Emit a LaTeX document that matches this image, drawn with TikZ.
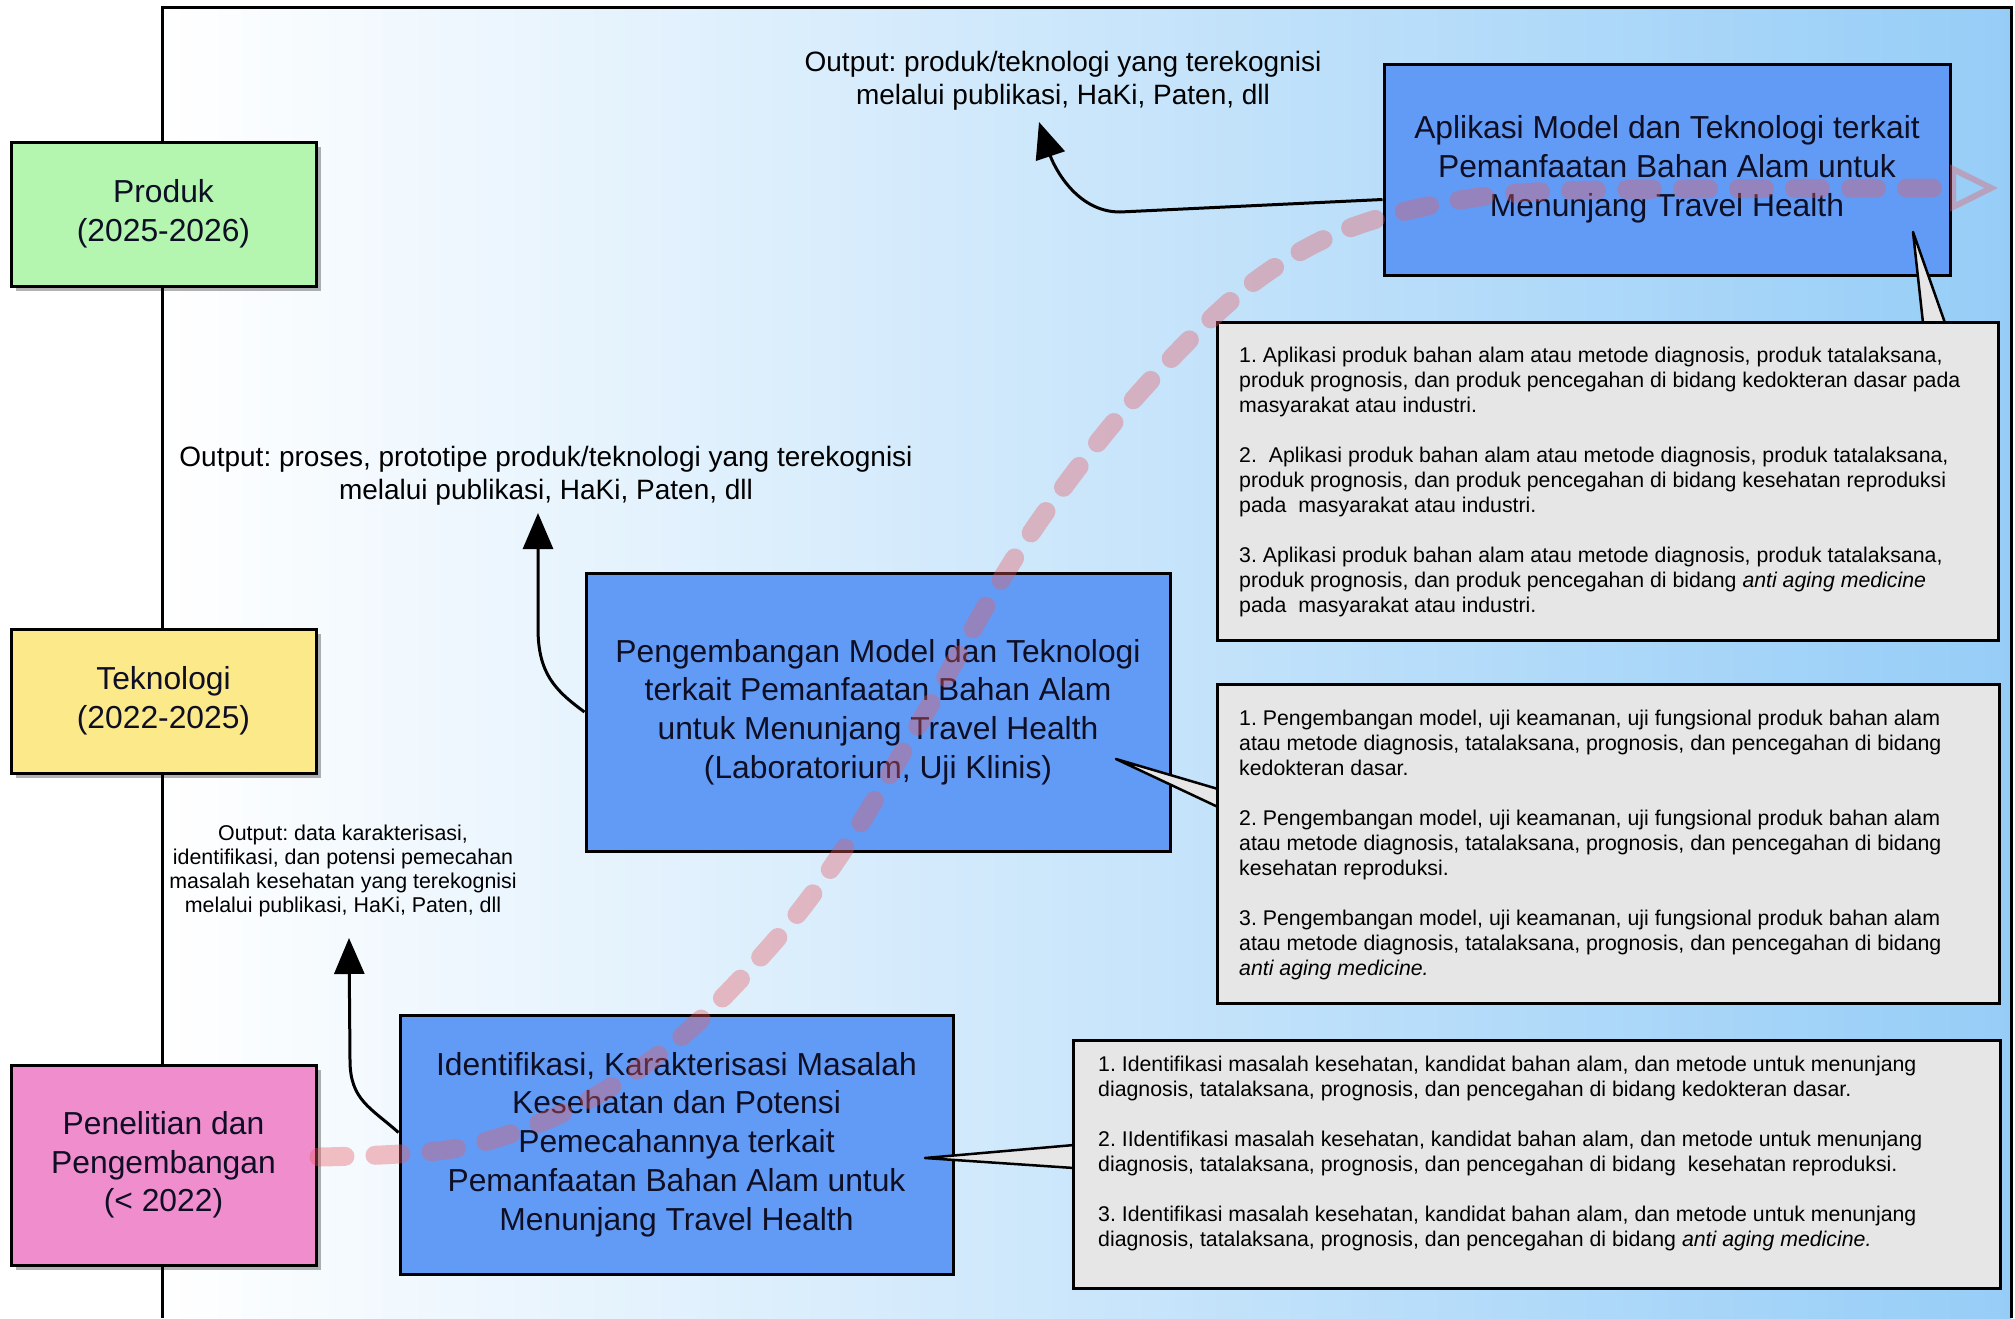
\documentclass[tikz,border=0pt]{standalone}
\usepackage{fontspec}
\setmainfont{Liberation Sans}
\frenchspacing
\usetikzlibrary{arrows.meta,shadows}
\definecolor{bgR}{RGB}{150,205,247}
\definecolor{bluebox}{RGB}{98,155,245}
\definecolor{graybox}{RGB}{230,230,230}
\definecolor{greenbox}{RGB}{180,245,175}
\definecolor{yellowbox}{RGB}{252,233,138}
\definecolor{pinkbox}{RGB}{240,142,205}
\definecolor{txt}{RGB}{14,14,36}
\definecolor{redc}{RGB}{232,92,100}
\tikzset{
  lbox/.style={draw=black, line width=3pt, minimum width=305pt, minimum height=144pt,
    align=center, text=txt, font=\fontsize{31.8}{38.5}\selectfont,
    drop shadow={shadow xshift=5pt, shadow yshift=-5pt, opacity=0.3, fill=black}},
  bbox/.style={draw=black, line width=3pt, fill=bluebox, align=center, text=txt,
    font=\fontsize{31.8}{38.8}\selectfont},
  gbox/.style={draw=black, line width=3pt, fill=graybox},
  gtext/.style={align=left, anchor=west, inner sep=0pt, text=black,
    font=\fontsize{21.3}{25}\selectfont},
  outtext/.style={align=center, text=black, font=\fontsize{28}{33}\selectfont},
  arr/.style={line width=3pt, draw=black, -{Triangle[length=36pt,width=30pt]}},
  wedgeline/.style={line width=2.5pt, draw=black, line join=round},
  redline/.style={draw=redc, draw opacity=0.38, line width=19pt, line cap=round,
    dash pattern=on 26pt off 30pt,
    -{Triangle[open,length=48pt,width=46pt,line width=6pt]}}
}
\begin{document}
\begin{tikzpicture}[x=1pt,y=-1pt]
\useasboundingbox (0,0) rectangle (2015,1318);
% background frame
\shade[left color=white,right color=bgR] (162,7) rectangle (2011,1318);
\draw[line width=3pt] (162,1318) -- (162,7) -- (2011,7) -- (2011,1318);

% left phase boxes
\node[lbox, fill=greenbox] (prod) at (163.5,214) {Produk\\(2025-2026)};
\node[lbox, fill=yellowbox] (tek) at (163.5,701) {Teknologi\\(2022-2025)};
\node[lbox, fill=pinkbox, minimum height=200pt] (pen) at (163.5,1165) {Penelitian dan\\Pengembangan\\(< 2022)};

% blue boxes
\node[bbox, minimum width=566pt, minimum height=211pt] (ap) at (1667,169.5)
  {Aplikasi Model dan Teknologi terkait\\Pemanfaatan Bahan Alam untuk\\Menunjang Travel Health};
\node[bbox, minimum width=584pt, minimum height=278pt] (pg) at (878,712)
  {Pengembangan Model dan Teknologi\\terkait Pemanfaatan Bahan Alam\\untuk Menunjang Travel Health\\(Laboratorium, Uji Klinis)};
\node[bbox, minimum width=553pt, minimum height=259pt] (id) at (676.5,1144.5)
  {Identifikasi, Karakterisasi Masalah\\Kesehatan dan Potensi\\Pemecahannya terkait\\Pemanfaatan Bahan Alam untuk\\Menunjang Travel Health};

% callout wedges
\coordinate (w1t) at (1913,232); \coordinate (w1a) at (1923,323); \coordinate (w1b) at (1945,323);
\coordinate (w2t) at (1116,759); \coordinate (w2a) at (1218,789); \coordinate (w2b) at (1218,807);
\coordinate (w3t) at (925,1158); \coordinate (w3a) at (1074,1145); \coordinate (w3b) at (1074,1168);
\fill[graybox] (w1t) -- (w1a) -- (w1b) -- cycle;
\draw[wedgeline] (w1a) -- (w1t) -- (w1b);
\fill[graybox] (w2t) -- (w2a) -- (w2b) -- cycle;
\draw[wedgeline] (w2a) -- (w2t) -- (w2b);
\fill[graybox] (w3t) -- (w3a) -- (w3b) -- cycle;
\draw[wedgeline] (w3a) -- (w3t) -- (w3b);

% gray description boxes
\node[gbox, minimum width=781pt, minimum height=318pt] (g1) at (1607.5,481) {};
\node[gbox, minimum width=782pt, minimum height=319pt] (g2) at (1608,843.5) {};
\node[gbox, minimum width=927pt, minimum height=248pt] (g3) at (1536.5,1164) {};

\node[gtext] (g1t) at (1239,482) {1. Aplikasi produk bahan alam atau metode diagnosis, produk tatalaksana,\\
produk prognosis, dan produk pencegahan di bidang kedokteran dasar pada\\
masyarakat atau industri.\\[25pt]
2.\ \ Aplikasi produk bahan alam atau metode diagnosis, produk tatalaksana,\\
produk prognosis, dan produk pencegahan di bidang kesehatan reproduksi\\
pada\ \ masyarakat atau industri.\\[25pt]
3. Aplikasi produk bahan alam atau metode diagnosis, produk tatalaksana,\\
produk prognosis, dan produk pencegahan di bidang \textit{anti aging medicine}\\
pada\ \ masyarakat atau industri.};

\node[gtext] (g2t) at (1239,845) {1. Pengembangan model, uji keamanan, uji fungsional produk bahan alam\\
atau metode diagnosis, tatalaksana, prognosis, dan pencegahan di bidang\\
kedokteran dasar.\\[25pt]
2. Pengembangan model, uji keamanan, uji fungsional produk bahan alam\\
atau metode diagnosis, tatalaksana, prognosis, dan pencegahan di bidang\\
kesehatan reproduksi.\\[25pt]
3. Pengembangan model, uji keamanan, uji fungsional produk bahan alam\\
atau metode diagnosis, tatalaksana, prognosis, dan pencegahan di bidang\\
\textit{anti aging medicine.}};

\node[gtext] (g3t) at (1098,1153) {1. Identifikasi masalah kesehatan, kandidat bahan alam, dan metode untuk menunjang\\
diagnosis, tatalaksana, prognosis, dan pencegahan di bidang kedokteran dasar.\\[25pt]
2. IIdentifikasi masalah kesehatan, kandidat bahan alam, dan metode untuk menunjang\\
diagnosis, tatalaksana, prognosis, dan pencegahan di bidang\ \ kesehatan reproduksi.\\[25pt]
3. Identifikasi masalah kesehatan, kandidat bahan alam, dan metode untuk menunjang\\
diagnosis, tatalaksana, prognosis, dan pencegahan di bidang \textit{anti aging medicine.}};

% output labels
\node[outtext] (o1) at (1063,81) {Output: produk/teknologi yang terekognisi\\melalui publikasi, HaKi, Paten, dll};
\node[outtext] (o2) at (546,476) {Output: proses, prototipe produk/teknologi yang terekognisi\\melalui publikasi, HaKi, Paten, dll};
\node[outtext, font=\fontsize{21.4}{24}\selectfont] (o3) at (343,871)
  {Output: data karakterisasi,\\identifikasi, dan potensi pemecahan\\masalah kesehatan yang terekognisi\\melalui publikasi, HaKi, Paten, dll};

% output arrows
\coordinate (a1) at (1120,212); \coordinate (t1) at (1039,122);
\draw[arr] ([yshift=-30pt]ap.west) -- (a1) .. controls +(-45,0) and +(14,42) .. (t1);
\coordinate (b1) at (538,628); \coordinate (t2) at (538,513);
\draw[arr] (pg.west) .. controls +(-30,-22) and +(0,45) .. (b1) -- (t2);
\coordinate (c1) at (350,1060); \coordinate (t3) at (349,938);
\draw[arr] ([yshift=12pt]id.west) .. controls +(-28,-25) and +(0,40) .. (c1) -- (t3);

% red progress curve
\coordinate (r0) at (319,1157);
\coordinate (r1) at (1998,188);
\draw[redline] plot[smooth, tension=0.55] coordinates {(r0) (458,1148) (573,1108) (680,1038) (780,935) (850,840) (930,705) (1023,545) (1127,407) (1240,293) (1340,232) (1460,200) (1600,190) (r1)};
\end{tikzpicture}
\end{document}
